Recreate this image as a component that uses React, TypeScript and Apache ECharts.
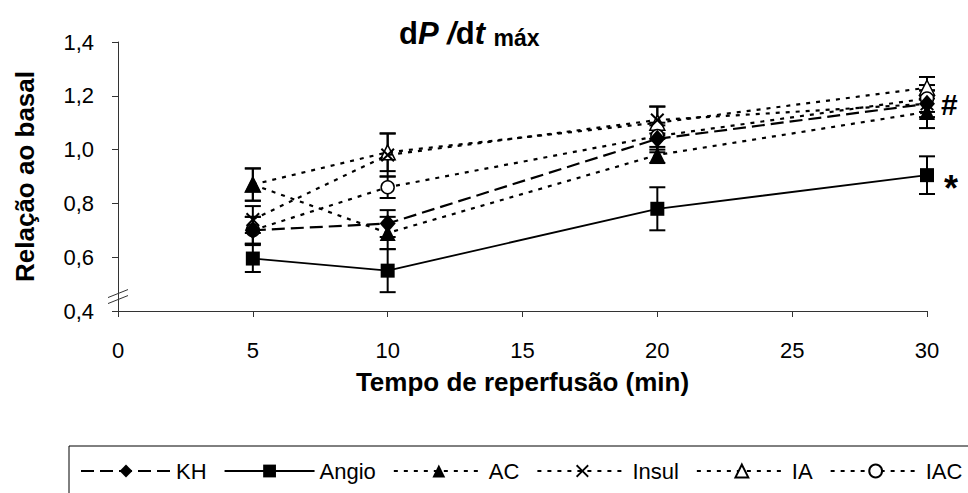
import React, { useEffect, useRef } from "react";
import * as echarts from "echarts";

// ---- data ----
const xTimes = [5, 10, 20, 30];
const khMean = [0.7, 0.725, 1.04, 1.17];
const khErr = [0.05, 0.05, 0.05, 0.05];
const angioMean = [0.595, 0.55, 0.78, 0.905];
const angioErr = [0.05, 0.08, 0.08, 0.07];
const acMean = [0.87, 0.69, 0.98, 1.14];
const acErr = [0.06, 0.06, 0.03, 0.06];
const insulMean = [0.74, 0.98, 1.11, 1.17];
const insulErr = [0.05, 0.08, 0.05, 0.05];
const iaMean = [0.87, 0.99, 1.1, 1.23];
const iaErr = [0.06, 0.07, 0.06, 0.04];
const iacMean = [0.7, 0.86, 1.05, 1.19];
const iacErr = [0.05, 0.04, 0.05, 0.05];

const xAxisTitle = "Tempo de reperfusão (min)";
const yAxisTitle = "Relação ao basal";

const FONT = "'Liberation Sans', Arial, sans-serif";
const GRID = { left: 118, top: 42, right: 41, bottom: 182 };
const X_PATH = "path://M1,0 L5,4 L9,0 L10,1 L6,5 L10,9 L9,10 L5,6 L1,10 L0,9 L4,5 L0,1 Z";

type Def = {
  name: string;
  mean: number[];
  err: number[];
  symbol: string;
  size: number | number[];
  fill: string;
  dash: number[] | "solid";
  z: number;
};

const defs: Def[] = [
  { name: "KH", mean: khMean, err: khErr, symbol: "diamond", size: [16, 18], fill: "#000", dash: [13, 6], z: 5 },
  { name: "Angio", mean: angioMean, err: angioErr, symbol: "rect", size: 14, fill: "#000", dash: "solid", z: 5 },
  { name: "AC", mean: acMean, err: acErr, symbol: "triangle", size: 16, fill: "#000", dash: [4, 6], z: 6 },
  { name: "Insul", mean: insulMean, err: insulErr, symbol: X_PATH, size: 14, fill: "#000", dash: [4, 6], z: 4 },
  { name: "IA", mean: iaMean, err: iaErr, symbol: "triangle", size: 15, fill: "#fff", dash: [4, 6], z: 3 },
  { name: "IAC", mean: iacMean, err: iacErr, symbol: "circle", size: 13, fill: "#fff", dash: [4, 6], z: 4 },
];

export default function App() {
  const ref = useRef<HTMLDivElement>(null);
  useEffect(() => {
    if (!ref.current) return;
    const chart = echarts.init(ref.current, undefined, { renderer: "svg" });

    const errSeries = defs.map((d) => ({
      type: "custom",
      name: d.name + "-err",
      z: 1,
      data: xTimes.map((x, i) => [x, d.mean[i], d.err[i]]),
      renderItem: (params: any, api: any) => {
        const x = api.value(0);
        const m = api.value(1);
        const e = api.value(2);
        const top = api.coord([x, m + e]);
        const bot = api.coord([x, m - e]);
        const hw = 8;
        const st = { stroke: "#000", lineWidth: 2 };
        return {
          type: "group",
          children: [
            { type: "line", shape: { x1: top[0], y1: top[1], x2: bot[0], y2: bot[1] }, style: st },
            { type: "line", shape: { x1: top[0] - hw, y1: top[1], x2: top[0] + hw, y2: top[1] }, style: st },
            { type: "line", shape: { x1: bot[0] - hw, y1: bot[1], x2: bot[0] + hw, y2: bot[1] }, style: st },
          ],
        };
      },
    }));

    const lineSeries = defs.map((d) => ({
      type: "line",
      name: d.name,
      z: d.z,
      data: xTimes.map((x, i) => [x, d.mean[i]]),
      symbol: d.symbol,
      symbolSize: d.size,
      showAllSymbol: true,
      lineStyle: { color: "#000", width: d.dash === "solid" ? 1.8 : 2.2, type: d.dash },
      itemStyle: { color: d.fill, borderColor: "#000", borderWidth: d.fill === "#fff" ? 1.5 : 0 },
      emphasis: { disabled: true },
    }));

    const plotH = 493 - GRID.top - GRID.bottom;
    const breakY = GRID.top + ((1.4 - 0.45) / 1.0) * plotH;

    chart.setOption({
      animation: false,
      backgroundColor: "#fff",
      textStyle: { fontFamily: FONT },
      title: {
        text: "{a|d}{b|P}{b| /}{a|d}{b|t}{c| máx}",
        left: 394,
        top: 8,
        textStyle: {
          rich: {
            a: { fontSize: 31, fontWeight: "bold", fontFamily: FONT, color: "#000", verticalAlign: "bottom", lineHeight: 36 },
            b: { fontSize: 31, fontWeight: "bold", fontStyle: "italic", fontFamily: FONT, color: "#000", verticalAlign: "bottom", lineHeight: 36 },
            c: { fontSize: 23, fontWeight: "bold", fontFamily: FONT, color: "#000", verticalAlign: "bottom", lineHeight: 36, padding: [0, 0, 0, 2] },
          },
        },
      },
      grid: { left: GRID.left, top: GRID.top, right: GRID.right, bottom: GRID.bottom, containLabel: false },
      xAxis: {
        type: "value",
        min: 0,
        max: 30,
        interval: 5,
        name: xAxisTitle,
        nameLocation: "middle",
        nameGap: 58,
        nameTextStyle: { fontSize: 26, fontWeight: "bold", color: "#000", fontFamily: FONT },
        axisLine: { lineStyle: { color: "#333", width: 1 } },
        axisTick: { show: true, length: 6, lineStyle: { color: "#333" } },
        axisLabel: { fontSize: 22, color: "#000", margin: 28, fontFamily: FONT },
        splitLine: { show: false },
      },
      yAxis: {
        type: "value",
        min: 0.4,
        max: 1.4,
        interval: 0.2,
        name: yAxisTitle,
        nameLocation: "middle",
        nameGap: 80,
        nameTextStyle: { fontSize: 26, fontWeight: "bold", color: "#000", fontFamily: FONT },
        axisLine: { show: true, lineStyle: { color: "#333", width: 1 } },
        axisTick: { show: true, length: 6, lineStyle: { color: "#333" } },
        axisLabel: {
          fontSize: 22,
          color: "#000",
          margin: 24,
          fontFamily: FONT,
          formatter: (v: number) => v.toFixed(1).replace(".", ","),
        },
        splitLine: { show: false },
      },
      legend: {
        data: defs.map((d) => d.name),
        left: 80,
        top: 455,
        width: 900,
        padding: [5, 0, 5, 0],
        itemWidth: 90,
        itemHeight: 16,
        itemGap: 17,
        selectedMode: false,
        textStyle: { fontSize: 22, color: "#000", fontFamily: FONT },
      },
      graphic: [
        {
          type: "rect",
          shape: { x: 69, y: 446, width: 1000, height: 100 },
          style: { fill: "none", stroke: "#000", lineWidth: 1 },
          silent: true,
        },
        {
          type: "group",
          silent: true,
          z: 10,
          children: [
            { type: "rect", shape: { x: GRID.left - 10, y: breakY - 9, width: 20, height: 17 }, style: { fill: "#fff" } },
            { type: "line", shape: { x1: GRID.left - 10, y1: breakY, x2: GRID.left + 10, y2: breakY - 8 }, style: { stroke: "#333", lineWidth: 1 } },
            { type: "line", shape: { x1: GRID.left - 10, y1: breakY + 6, x2: GRID.left + 10, y2: breakY - 2 }, style: { stroke: "#333", lineWidth: 1 } },
          ],
        },
        {
          type: "text",
          x: 941,
          y: 104,
          style: { text: "#", font: `bold 30px ${FONT}`, fill: "#000", verticalAlign: "middle" },
        },
        {
          type: "text",
          x: 944,
          y: 188,
          style: { text: "*", font: `bold 36px ${FONT}`, fill: "#000", verticalAlign: "middle" },
        },
      ],
      series: [...errSeries, ...lineSeries],
    });
    return () => chart.dispose();
  }, []);
  return <div ref={ref} style={{ position: "fixed", left: 0, top: 0, width: 968, height: 493 }} />;
}
